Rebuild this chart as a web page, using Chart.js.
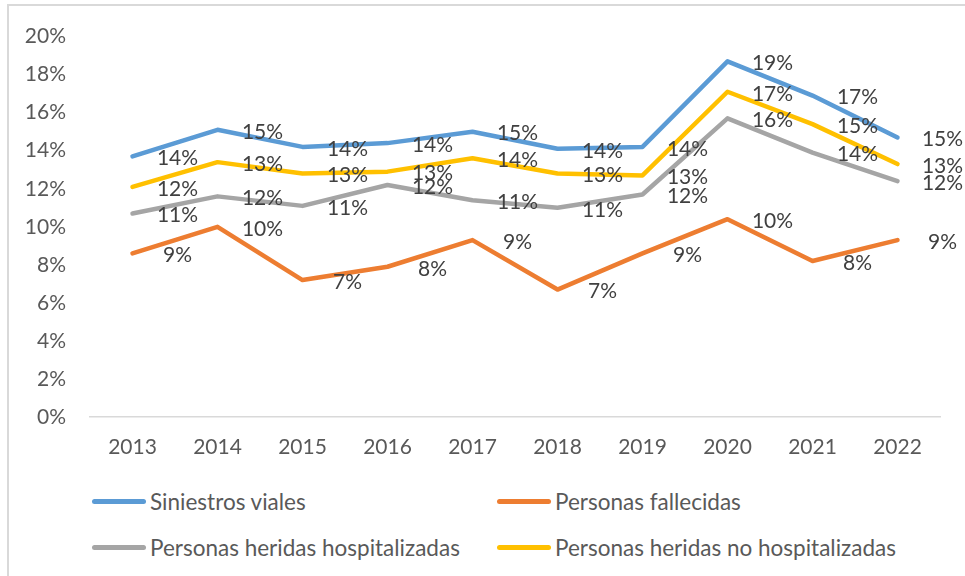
<!DOCTYPE html>
<html>
<head>
<meta charset="utf-8">
<script src="https://cdn.jsdelivr.net/npm/chart.js@4.4.1/dist/chart.umd.min.js"></script>
<style>
    html, body { margin: 0; padding: 0; background: #fff; overflow: hidden; }
    body { width: 965px; height: 576px; position: relative; font-family: Lato, "Liberation Sans", sans-serif; }
    #frame { position: absolute; left: 7px; top: 4px; width: 1000px; height: 600px; border: 2px solid #d9d9d9; }
    #wrap { position: absolute; left: 0; top: 0; width: 965px; height: 480px; }
    #legend { position: absolute; left: 0; top: 480px; width: 965px; height: 96px; }
    .item { position: absolute; height: 26px; display: flex; align-items: center; color: #595959; font-size: 22.5px; white-space: nowrap; }
    .item span.sw { display: inline-block; width: 54px; height: 5px; border-radius: 3px; margin-right: 4px; }
</style>
</head>
<body>
<div id="frame"></div>
<div id="wrap"><canvas id="chart"></canvas></div>
<div id="legend"></div>
<script>
// daten
var years = ["2013", "2014", "2015", "2016", "2017", "2018", "2019", "2020", "2021", "2022"];
var siniestros = [0.137, 0.151, 0.142, 0.144, 0.150, 0.141, 0.142, 0.187, 0.169, 0.147];
var fallecidas = [0.086, 0.100, 0.072, 0.079, 0.093, 0.067, 0.086, 0.104, 0.082, 0.093];
var hospitalizadas = [0.107, 0.116, 0.111, 0.122, 0.114, 0.110, 0.117, 0.157, 0.139, 0.124];
var noHospitalizadas = [0.121, 0.134, 0.128, 0.129, 0.136, 0.128, 0.127, 0.171, 0.154, 0.133];
var seriesNames = ["Siniestros viales", "Personas fallecidas", "Personas heridas hospitalizadas", "Personas heridas no hospitalizadas"];
var colors = ["#5b9bd5", "#ed7d31", "#a5a5a5", "#ffc000"];
var yTicks = [0, 0.02, 0.04, 0.06, 0.08, 0.10, 0.12, 0.14, 0.16, 0.18, 0.20];

var fontFam = "Lato, 'Liberation Sans', sans-serif";

function makeSet(i, values) {
    return {
        label: seriesNames[i],
        data: values,
        borderColor: colors[i],
        backgroundColor: colors[i],
        borderWidth: 4.5,
        borderCapStyle: 'round',
        borderJoinStyle: 'round',
        pointRadius: 0,
        tension: 0
    };
}

// Beschriftungen rechts neben den Punkten
var pctLabels = {
    id: 'pctLabels',
    afterDatasetsDraw: function (chart) {
        var ctx = chart.ctx;
        ctx.save();
        ctx.font = "21px " + fontFam;
        ctx.fillStyle = "#404040";
        ctx.textAlign = "center";
        ctx.textBaseline = "middle";
        chart.data.datasets.forEach(function (ds, i) {
            var meta = chart.getDatasetMeta(i);
            meta.data.forEach(function (pt, j) {
                ctx.fillText(Math.round(ds.data[j] * 100) + "%", pt.x + 45, pt.y + 2);
            });
        });
        ctx.restore();
    }
};

var canvas = document.getElementById("chart");
var myChart = new Chart(canvas, {
    type: 'line',
    data: {
        labels: years,
        datasets: [
            makeSet(0, siniestros),
            makeSet(1, fallecidas),
            makeSet(2, hospitalizadas),
            makeSet(3, noHospitalizadas)
        ]
    },
    options: {
        responsive: true,
        maintainAspectRatio: false,
        animation: false,
        layout: { padding: { top: 35, right: 25, bottom: 13, left: 0 } },
        plugins: {
            legend: { display: false },
            tooltip: { enabled: false }
        },
        scales: {
            x: {
                offset: true,
                grid: { display: false, drawTicks: false },
                border: { display: true, color: "#d9d9d9", width: 1.5 },
                ticks: { color: "#595959", font: { family: fontFam, size: 21 }, padding: 18, maxRotation: 0 },
                afterFit: function (scale) { scale.height = 50; }
            },
            y: {
                min: 0,
                max: 0.20,
                grid: { display: false, drawTicks: false },
                border: { display: false },
                afterBuildTicks: function (scale) {
                    scale.ticks = yTicks.map(function (v) { return { value: v }; });
                },
                ticks: {
                    color: "#595959",
                    font: { family: fontFam, size: 21 },
                    padding: 24,
                    callback: function (v) { return Math.round(v * 100) + "%"; }
                },
                afterFit: function (scale) { scale.width = 90; }
            }
        }
    },
    plugins: [pctLabels]
});

// Legende als HTML, zwei Spalten
var legendPos = [[92, 488], [497, 488], [92, 534], [497, 534]];
var legDiv = document.getElementById("legend");
seriesNames.forEach(function (name, i) {
    var item = document.createElement("div");
    item.className = "item";
    item.style.left = legendPos[i][0] + "px";
    item.style.top = (legendPos[i][1] - 480) + "px";
    var sw = document.createElement("span");
    sw.className = "sw";
    sw.style.background = colors[i];
    item.appendChild(sw);
    item.appendChild(document.createTextNode(name));
    legDiv.appendChild(item);
});
</script>
</body>
</html>
